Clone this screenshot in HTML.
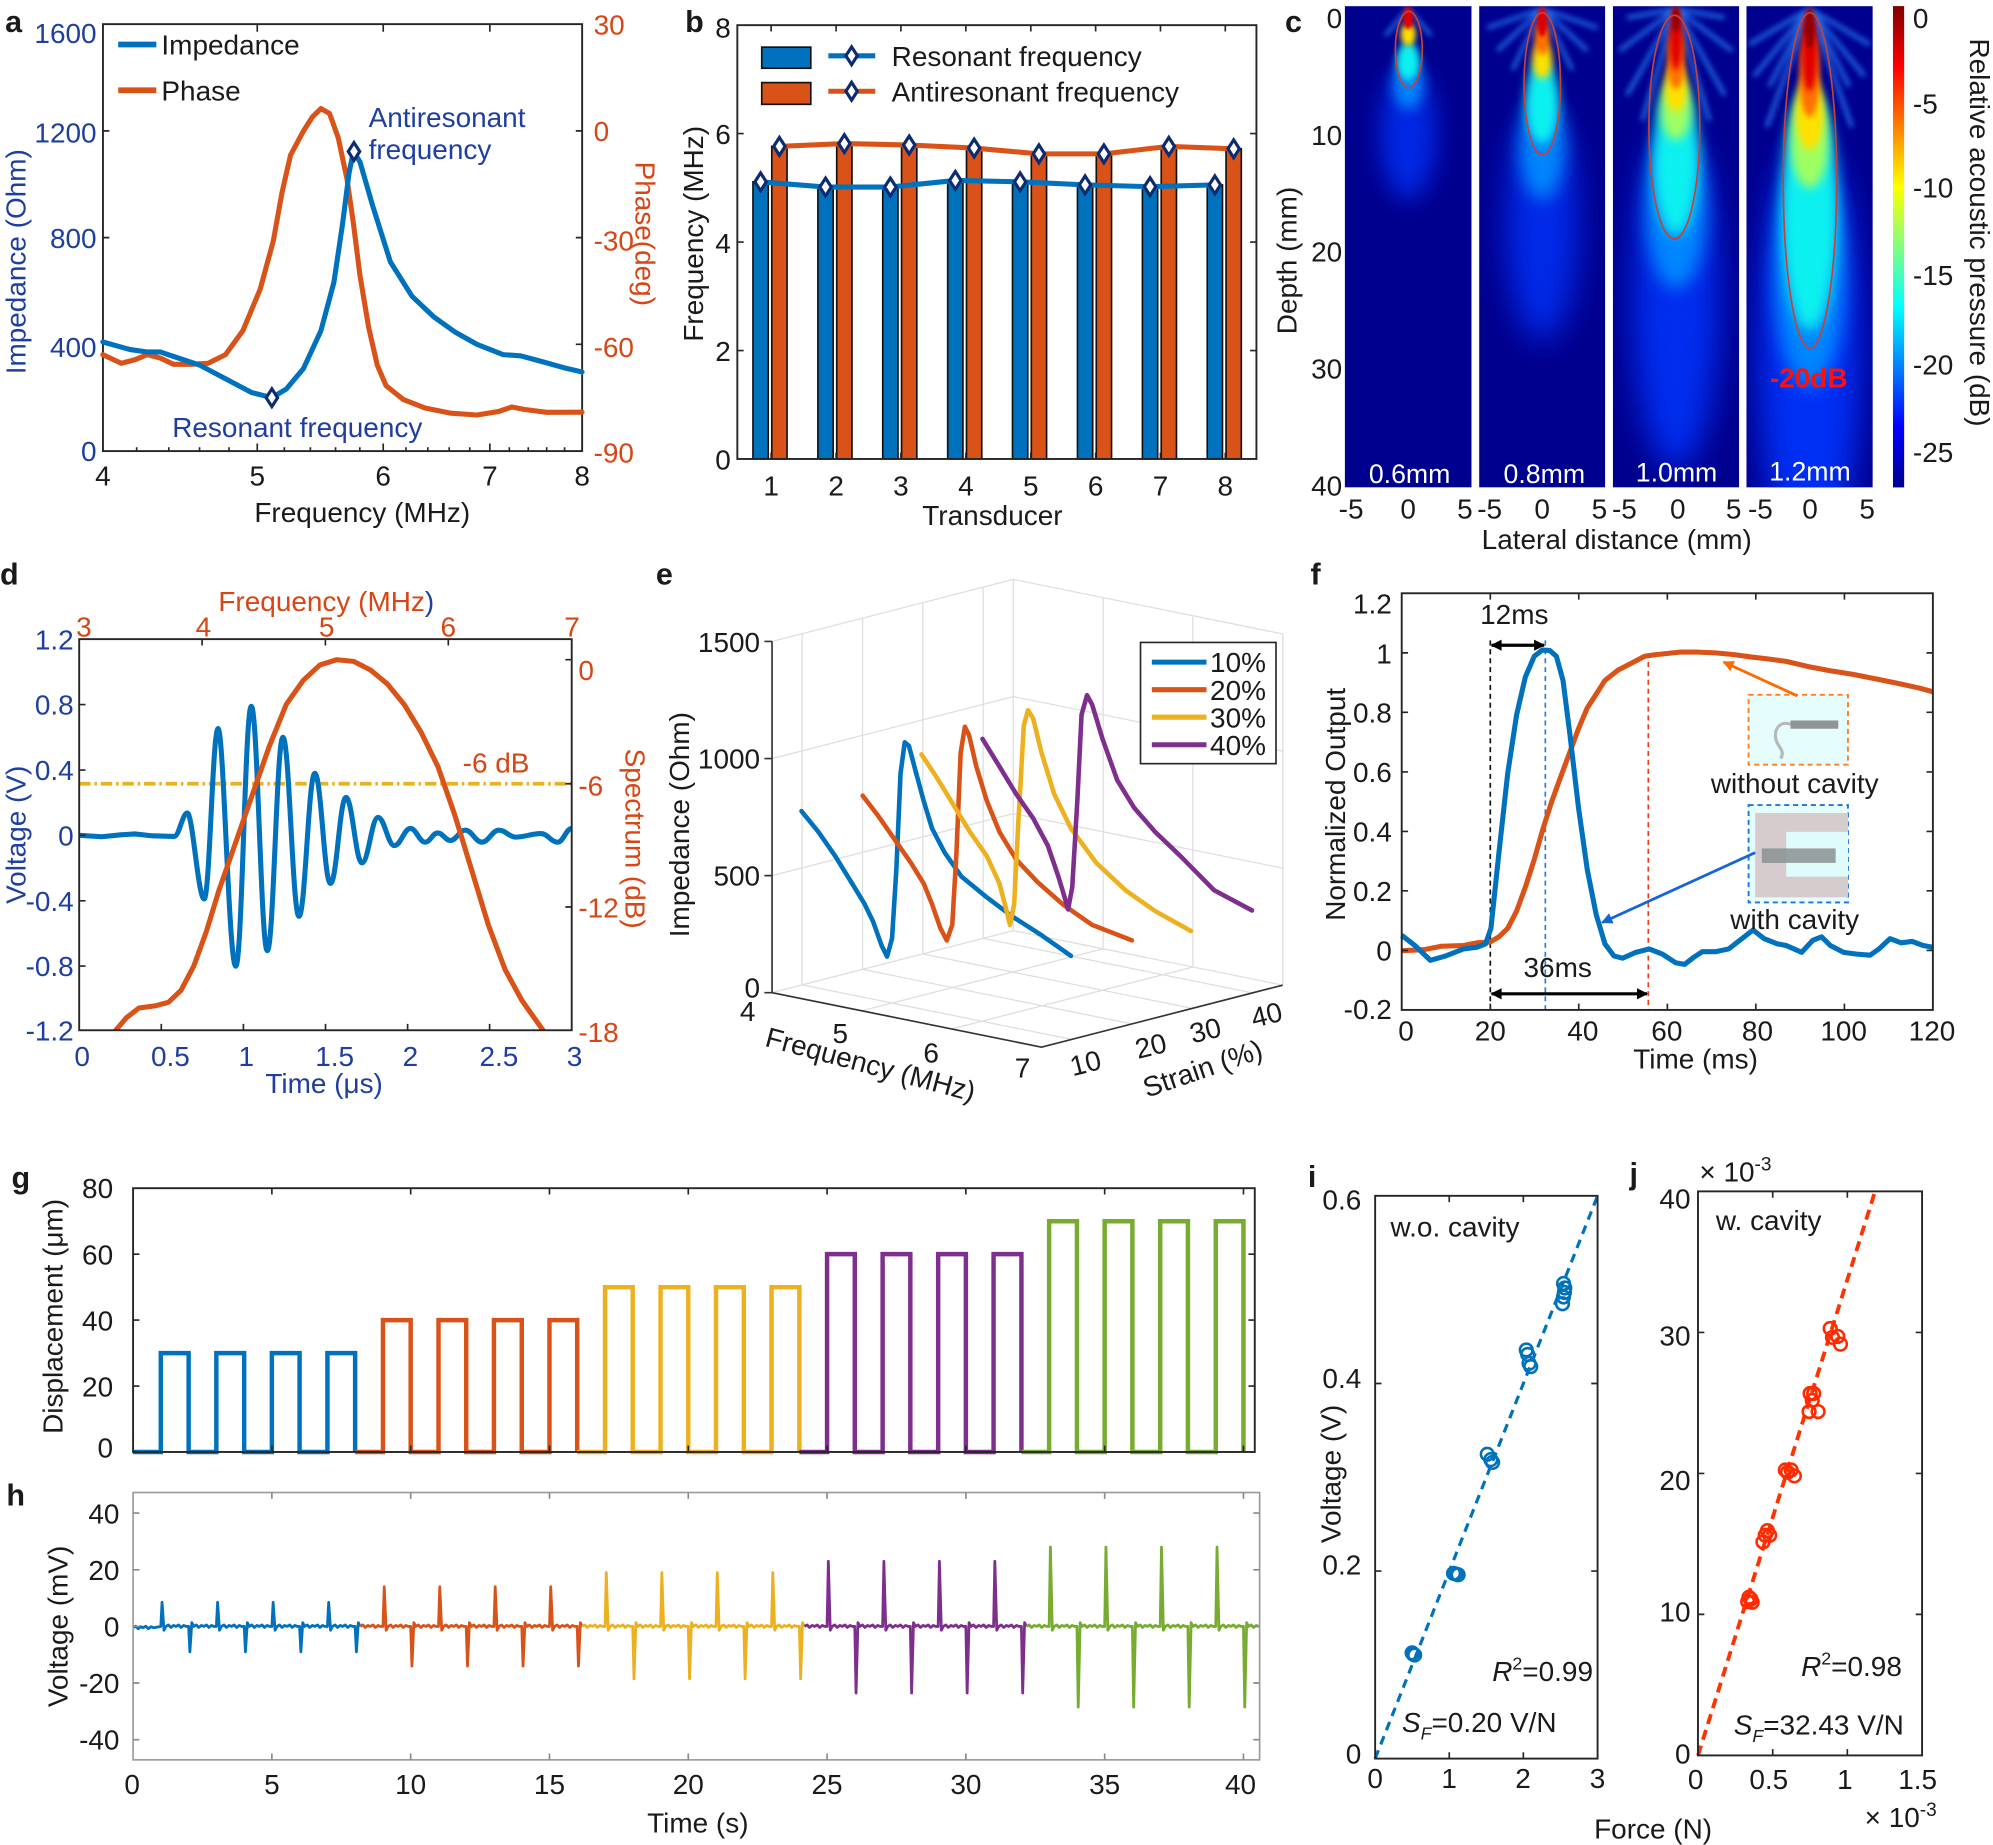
<!DOCTYPE html>
<html><head><meta charset="utf-8"><style>html,body{margin:0;padding:0;background:#fff;}svg{display:block;}</style></head>
<body>
<svg xmlns="http://www.w3.org/2000/svg" width="1993" height="1845" viewBox="0 0 1568 1452" preserveAspectRatio="none" font-family="'Liberation Sans', Arial, sans-serif" font-size="22">
<defs>
<linearGradient id="jet" x1="0" y1="0" x2="0" y2="1">
<stop offset="0" stop-color="#800000"/><stop offset="0.125" stop-color="#ff0000"/><stop offset="0.375" stop-color="#ffff00"/><stop offset="0.625" stop-color="#00ffff"/><stop offset="0.875" stop-color="#0000ff"/><stop offset="1" stop-color="#00008f"/>
</linearGradient>
<filter id="b1" x="-100%" y="-100%" width="300%" height="300%"><feGaussianBlur stdDeviation="1.5"/></filter>
<filter id="b2" x="-100%" y="-100%" width="300%" height="300%"><feGaussianBlur stdDeviation="2.2"/></filter>
<filter id="b3" x="-100%" y="-100%" width="300%" height="300%"><feGaussianBlur stdDeviation="3"/></filter>
<filter id="b4" x="-100%" y="-100%" width="300%" height="300%"><feGaussianBlur stdDeviation="4"/></filter>
<filter id="b5" x="-100%" y="-100%" width="300%" height="300%"><feGaussianBlur stdDeviation="5"/></filter>
<filter id="b7" x="-100%" y="-100%" width="300%" height="300%"><feGaussianBlur stdDeviation="7"/></filter>
<filter id="b9" x="-100%" y="-100%" width="300%" height="300%"><feGaussianBlur stdDeviation="9"/></filter>
<filter id="b12" x="-100%" y="-100%" width="300%" height="300%"><feGaussianBlur stdDeviation="12"/></filter>
<clipPath id="cp1"><rect x="1058" y="4.8" width="99.7" height="378.8"/></clipPath>
<clipPath id="cp2"><rect x="1163.7" y="4.8" width="99.2" height="378.8"/></clipPath>
<clipPath id="cp3"><rect x="1268.9" y="4.8" width="99.4" height="378.8"/></clipPath>
<clipPath id="cp4"><rect x="1374" y="4.8" width="99.4" height="378.8"/></clipPath>
<clipPath id="cpd"><rect x="62.3" y="503" width="387.5" height="307.8"/></clipPath>
<marker id="mk" viewBox="0 0 10 10" refX="9" refY="5" markerWidth="4" markerHeight="3.5" orient="auto-start-reverse"><path d="M0,0 L10,5 L0,10 z" fill="#000"/></marker>
<marker id="mo" viewBox="0 0 10 10" refX="9" refY="5" markerWidth="5" markerHeight="4" orient="auto"><path d="M0,0 L10,5 L0,10 z" fill="#ff6a00"/></marker>
<marker id="mb" viewBox="0 0 10 10" refX="9" refY="5" markerWidth="5" markerHeight="4" orient="auto"><path d="M0,0 L10,5 L0,10 z" fill="#1565d8"/></marker>
</defs>

<!-- ================= PANEL A ================= -->
<g>
<rect x="81" y="19" width="377" height="336" fill="none" stroke="#262626" stroke-width="1.5"/>
<g stroke="#262626" stroke-width="1.3">
<path d="M81,271h5M81,187h5M81,103h5M458,271h-5M458,187h-5M458,103h-5"/>
<path d="M202.4,355v-6M301.5,355v-6M385.4,355v-6M202.4,19v6M301.5,19v6M385.4,19v6"/>
<path d="M107.5,355v-3M132.8,355v-3M157,355v-3M180.2,355v-3M223.7,355v-3M244.2,355v-3M264,355v-3M283.1,355v-3M319.4,355v-3M336.6,355v-3M353.4,355v-3M369.6,355v-3M400.7,355v-3M415.6,355v-3M430.1,355v-3M444.2,355v-3"/>
</g>
<g fill="none" stroke-linejoin="round" stroke-linecap="round">
<polyline stroke="#d95319" stroke-width="4" points="80.9,279.1 95.5,285.9 105.8,283.2 116,279.1 126.2,281.8 136.5,286.7 150.1,286.7 163.8,285.9 177.4,279.1 191.1,260.2 204.7,227.6 215,189.7 221.8,151.8 228.6,122 238.8,103 245.7,92.1 252.5,85.4 259.3,89.4 266.1,108.4 273,140.9 278.1,176.2 283.2,216.8 290,257.5 296.8,287.3 303.7,303.5 317.3,314.4 334.4,321.1 354.8,325.2 375.3,326.6 392.4,323.8 402.6,320.3 412.9,322.3 429.9,324.5 457.9,324.4"/>
<polyline stroke="#0072bd" stroke-width="4" points="80.9,269.1 102.4,275.1 116,277 126.2,277 136.5,280.5 157,287.3 177.4,298.1 197.9,308.9 213.9,313 225.2,306.2 238.8,290 252.5,260.2 262.7,222.2 269.5,176.2 274.7,135.5 278.1,119.2 283.2,127.4 293.4,162.6 307.1,206 324.1,233.1 341.2,249.3 358.3,261.5 375.3,271 395.8,279.1 409.5,280 426.5,284.6 443.6,289.4 457.9,292.7"/>
</g>
<path d="M213.9,306 l4.5,7 l-4.5,7 l-4.5,-7z M278.5,112.2 l4.5,7 l-4.5,7 l-4.5,-7z" fill="#fff" stroke="#0d2b70" stroke-width="2.5"/>
<line x1="93" y1="35" x2="123" y2="35" stroke="#0072bd" stroke-width="4.5"/>
<line x1="93" y1="71" x2="123" y2="71" stroke="#d95319" stroke-width="4.5"/>
<g fill="#1a1a1a">
<text x="127" y="43">Impedance</text>
<text x="127" y="79">Phase</text>
<text x="4" y="25" font-weight="bold" font-size="24">a</text>
<text x="285" y="411" text-anchor="middle">Frequency (MHz)</text>
<g text-anchor="middle" font-size="22"><text x="81" y="382">4</text><text x="202.4" y="382">5</text><text x="301.5" y="382">6</text><text x="385.4" y="382">7</text><text x="458" y="382">8</text></g>
</g>
<g fill="#1e3ea0">
<g text-anchor="end"><text x="76" y="34">1600</text><text x="76" y="112">1200</text><text x="76" y="195">800</text><text x="76" y="281">400</text><text x="76" y="363">0</text></g>
<text transform="translate(20,206) rotate(-90)" text-anchor="middle">Impedance (Ohm)</text>
<text x="290" y="100">Antiresonant</text>
<text x="290" y="125">frequency</text>
<text x="135.5" y="344">Resonant frequency</text>
</g>
<g fill="#d74614">
<text x="467" y="27">30</text><text x="467" y="111">0</text><text x="467" y="197">-30</text><text x="467" y="281">-60</text><text x="467" y="364">-90</text>
<text transform="translate(500,184) rotate(90)" text-anchor="middle">Phase(deg)</text>
</g>
</g>

<!-- ================= PANEL B ================= -->
<g>
<g stroke="#111" stroke-width="1.3">
<rect x="592.4" y="143.1" width="12" height="218.1" fill="#0072bd"/>
<rect x="643.5" y="147.2" width="12" height="214" fill="#0072bd"/>
<rect x="694.5" y="147.2" width="12" height="214" fill="#0072bd"/>
<rect x="745.6" y="142" width="12" height="219.2" fill="#0072bd"/>
<rect x="796.6" y="143.1" width="12" height="218.1" fill="#0072bd"/>
<rect x="847.7" y="145.5" width="12" height="215.7" fill="#0072bd"/>
<rect x="898.8" y="146.9" width="12" height="214.3" fill="#0072bd"/>
<rect x="949.8" y="145.5" width="12" height="215.7" fill="#0072bd"/>
<rect x="607.2" y="115.2" width="12" height="246" fill="#d95319"/>
<rect x="658.3" y="113" width="12" height="248.2" fill="#d95319"/>
<rect x="709.3" y="114.1" width="12" height="247.1" fill="#d95319"/>
<rect x="760.4" y="116.5" width="12" height="244.7" fill="#d95319"/>
<rect x="811.4" y="121.1" width="12" height="240.1" fill="#d95319"/>
<rect x="862.5" y="121.1" width="12" height="240.1" fill="#d95319"/>
<rect x="913.6" y="115.2" width="12" height="246" fill="#d95319"/>
<rect x="964.6" y="117.1" width="12" height="244.1" fill="#d95319"/>
</g>
<rect x="580.1" y="19.8" width="408.4" height="341.4" fill="none" stroke="#262626" stroke-width="1.5"/>
<g stroke="#262626" stroke-width="1.3">
<path d="M580.1,275.9h5M580.1,190.5h5M580.1,105.1h5M988.5,275.9h-5M988.5,190.5h-5M988.5,105.1h-5"/>
<path d="M606.7,361.2v-5M657.8,361.2v-5M708.8,361.2v-5M759.9,361.2v-5M811,361.2v-5M862,361.2v-5M913,361.2v-5M964,361.2v-5M606.7,19.8v5M657.8,19.8v5M708.8,19.8v5M759.9,19.8v5M811,19.8v5M862,19.8v5M913,19.8v5M964,19.8v5"/>
</g>
<polyline fill="none" stroke="#0072bd" stroke-width="4" stroke-linejoin="round" points="598.4,143.1 649.5,147.2 700.5,147.2 751.6,142 802.6,143.1 853.7,145.5 904.8,146.9 955.8,145.5"/>
<polyline fill="none" stroke="#d95319" stroke-width="4" stroke-linejoin="round" points="613.2,115.2 664.3,113 715.3,114.1 766.4,116.5 817.4,121.1 868.5,121.1 919.6,115.2 970.6,117.1"/>
<g fill="#fff" stroke="#0d2b70" stroke-width="2.5">
<path d="M598.4,136.1l4.5,7l-4.5,7l-4.5,-7zM649.5,140.2l4.5,7l-4.5,7l-4.5,-7zM700.5,140.2l4.5,7l-4.5,7l-4.5,-7zM751.6,135l4.5,7l-4.5,7l-4.5,-7zM802.6,136.1l4.5,7l-4.5,7l-4.5,-7zM853.7,138.5l4.5,7l-4.5,7l-4.5,-7zM904.8,139.9l4.5,7l-4.5,7l-4.5,-7zM955.8,138.5l4.5,7l-4.5,7l-4.5,-7z"/>
<path d="M613.2,108.2l4.5,7l-4.5,7l-4.5,-7zM664.3,106l4.5,7l-4.5,7l-4.5,-7zM715.3,107.1l4.5,7l-4.5,7l-4.5,-7zM766.4,109.5l4.5,7l-4.5,7l-4.5,-7zM817.4,114.1l4.5,7l-4.5,7l-4.5,-7zM868.5,114.1l4.5,7l-4.5,7l-4.5,-7zM919.6,108.2l4.5,7l-4.5,7l-4.5,-7zM970.6,110.1l4.5,7l-4.5,7l-4.5,-7z"/>
</g>
<rect x="599.3" y="37.1" width="38.6" height="16.6" fill="#0072bd" stroke="#111" stroke-width="1.3"/>
<rect x="599.3" y="65" width="38.6" height="17.1" fill="#d95319" stroke="#111" stroke-width="1.3"/>
<line x1="651.7" y1="43.9" x2="688.6" y2="43.9" stroke="#0072bd" stroke-width="4"/>
<line x1="651.7" y1="71.8" x2="688.6" y2="71.8" stroke="#d95319" stroke-width="4"/>
<path d="M670,36.9l4.5,7l-4.5,7l-4.5,-7zM670,64.8l4.5,7l-4.5,7l-4.5,-7z" fill="#fff" stroke="#0d2b70" stroke-width="2.5"/>
<g fill="#1a1a1a">
<text x="701.5" y="52">Resonant frequency</text>
<text x="701.5" y="80">Antiresonant frequency</text>
<text x="539" y="25" font-weight="bold" font-size="24">b</text>
<g text-anchor="end"><text x="575" y="29.5">8</text><text x="575" y="113.5">6</text><text x="575" y="199">4</text><text x="575" y="284">2</text><text x="575" y="369.5">0</text></g>
<g text-anchor="middle"><text x="606.7" y="390">1</text><text x="657.8" y="390">2</text><text x="708.8" y="390">3</text><text x="759.9" y="390">4</text><text x="811" y="390">5</text><text x="862" y="390">6</text><text x="913" y="390">7</text><text x="964" y="390">8</text></g>
<text x="780.8" y="413" text-anchor="middle">Transducer</text>
<text transform="translate(553,184) rotate(-90)" text-anchor="middle">Frequency (MHz)</text>
</g>
</g>

<!-- ================= PANEL C ================= -->
<g>
<!-- panel 1 -->
<g clip-path="url(#cp1)">
<rect x="1058" y="4.8" width="99.7" height="378.8" fill="#00008f"/>
<ellipse cx="1107.9" cy="105" rx="22" ry="52" fill="#0035ff" opacity="0.75" filter="url(#b9)"/>
<ellipse cx="1107.9" cy="66" rx="12" ry="20" fill="#0090ff" opacity="0.9" filter="url(#b5)"/>
<path d="M1107.9,7 L1090,28 M1107.9,7 L1126,28" stroke="#2a8cff" stroke-width="3" opacity="0.8" filter="url(#b2)"/>
<ellipse cx="1107.9" cy="48" rx="9" ry="15" fill="#10f0f0" filter="url(#b3)"/>
<ellipse cx="1107.9" cy="27" rx="6" ry="9" fill="#ffe000" filter="url(#b2)"/>
<ellipse cx="1107.9" cy="14" rx="4" ry="9" fill="#e00000" filter="url(#b1)"/>
<ellipse cx="1108.4" cy="39" rx="10.6" ry="30" fill="none" stroke="#c8403a" stroke-width="1.3"/>
</g>
<!-- panel 2 -->
<g clip-path="url(#cp2)">
<rect x="1163.7" y="4.8" width="99.2" height="378.8" fill="#00008f"/>
<ellipse cx="1213.3" cy="178" rx="28" ry="90" fill="#0035ff" opacity="0.8" filter="url(#b12)"/>
<ellipse cx="1213.3" cy="115" rx="18" ry="42" fill="#0090ff" opacity="0.9" filter="url(#b7)"/>
<path d="M1213.3,7 L1190,55 M1213.3,7 L1237,55 M1213.3,7 L1178,40 M1213.3,7 L1249,40 M1213.3,7 L1170,22 M1213.3,7 L1257,22" stroke="#2a8cff" stroke-width="3" opacity="0.8" filter="url(#b2)"/>
<ellipse cx="1213.3" cy="80" rx="13" ry="33" fill="#10f0f0" filter="url(#b4)"/>
<ellipse cx="1213.3" cy="47" rx="8" ry="15" fill="#ffe000" filter="url(#b3)"/>
<ellipse cx="1213.3" cy="30" rx="6" ry="13" fill="#ff7000" filter="url(#b2)"/>
<ellipse cx="1213.3" cy="17" rx="4" ry="12" fill="#e00000" filter="url(#b1)"/>
<ellipse cx="1213.4" cy="66" rx="14.3" ry="56" fill="none" stroke="#c8403a" stroke-width="1.3"/>
</g>
<!-- panel 3 -->
<g clip-path="url(#cp3)">
<rect x="1268.9" y="4.8" width="99.4" height="378.8" fill="#00008f"/>
<ellipse cx="1318.6" cy="235" rx="34" ry="135" fill="#0035ff" opacity="0.85" filter="url(#b12)"/>
<ellipse cx="1318.6" cy="165" rx="24" ry="62" fill="#0090ff" opacity="0.9" filter="url(#b7)"/>
<path d="M1318.6,7 L1292,95 M1318.6,7 L1345,95 M1318.6,7 L1280,75 M1318.6,7 L1357,75 M1318.6,7 L1274,40 M1318.6,7 L1363,40 M1318.6,7 L1280,14 M1318.6,7 L1357,14" stroke="#2a8cff" stroke-width="3.2" opacity="0.8" filter="url(#b2)"/>
<ellipse cx="1318.6" cy="125" rx="18" ry="60" fill="#10f0f0" filter="url(#b5)"/>
<ellipse cx="1318.6" cy="86" rx="12" ry="24" fill="#a0ff60" filter="url(#b4)"/>
<ellipse cx="1318.6" cy="68" rx="9" ry="20" fill="#ffe000" filter="url(#b3)"/>
<ellipse cx="1318.6" cy="46" rx="7" ry="24" fill="#ff7000" filter="url(#b2)"/>
<ellipse cx="1318.6" cy="30" rx="5" ry="25" fill="#e00000" filter="url(#b2)"/>
<ellipse cx="1318.6" cy="15" rx="3" ry="10" fill="#900000" filter="url(#b1)"/>
<ellipse cx="1317.3" cy="100" rx="20" ry="88" fill="none" stroke="#c8403a" stroke-width="1.3"/>
</g>
<!-- panel 4 -->
<g clip-path="url(#cp4)">
<rect x="1374" y="4.8" width="99.4" height="378.8" fill="#00008f"/>
<ellipse cx="1423.7" cy="280" rx="40" ry="170" fill="#0035ff" opacity="0.9" filter="url(#b12)"/>
<ellipse cx="1423.7" cy="215" rx="28" ry="90" fill="#0090ff" opacity="0.9" filter="url(#b7)"/>
<path d="M1423.7,7 L1392,68 M1423.7,7 L1455,68 M1423.7,7 L1380,60 M1423.7,7 L1467,60 M1423.7,7 L1376,35 M1423.7,7 L1471,35 M1423.7,7 L1390,100 M1423.7,7 L1457,100" stroke="#2a8cff" stroke-width="3.2" opacity="0.8" filter="url(#b2)"/>
<ellipse cx="1423.7" cy="165" rx="22" ry="95" fill="#10f0f0" filter="url(#b5)"/>
<ellipse cx="1423.7" cy="110" rx="15" ry="38" fill="#a0ff60" filter="url(#b4)"/>
<ellipse cx="1423.7" cy="88" rx="11" ry="30" fill="#ffe000" filter="url(#b3)"/>
<ellipse cx="1423.7" cy="58" rx="8" ry="34" fill="#ff7000" filter="url(#b2)"/>
<ellipse cx="1423.7" cy="40" rx="6" ry="32" fill="#e00000" filter="url(#b2)"/>
<ellipse cx="1423.7" cy="22" rx="3.5" ry="16" fill="#900000" filter="url(#b1)"/>
<ellipse cx="1424" cy="142" rx="21" ry="132" fill="none" stroke="#c8403a" stroke-width="1.3"/>
</g>
<rect x="1489.3" y="4.8" width="8.8" height="378.8" fill="url(#jet)"/>
<g fill="#fff" font-size="21" text-anchor="middle">
<text x="1109" y="380">0.6mm</text><text x="1215" y="380">0.8mm</text><text x="1319" y="379">1.0mm</text><text x="1424" y="378">1.2mm</text>
</g>
<text x="1423" y="305" fill="#ff1010" font-weight="bold" font-size="22" text-anchor="middle">-20dB</text>
<g fill="#1a1a1a">
<text x="1011" y="25" font-weight="bold" font-size="24">c</text>
<g text-anchor="end"><text x="1056" y="22">0</text><text x="1056" y="114">10</text><text x="1056" y="206">20</text><text x="1056" y="298">30</text><text x="1056" y="390">40</text></g>
<g text-anchor="middle">
<text x="1063" y="408">-5</text><text x="1107.9" y="408">0</text><text x="1152.5" y="408">5</text>
<text x="1172" y="408">-5</text><text x="1213.3" y="408">0</text><text x="1258.3" y="408">5</text>
<text x="1278" y="408">-5</text><text x="1320" y="408">0</text><text x="1364" y="408">5</text>
<text x="1385" y="408">-5</text><text x="1424" y="408">0</text><text x="1469" y="408">5</text>
</g>
<text x="1272" y="432" text-anchor="middle">Lateral distance (mm)</text>
<text transform="translate(1020,205) rotate(-90)" text-anchor="middle">Depth (mm)</text>
<text x="1505" y="22">0</text><text x="1505" y="89.5">-5</text><text x="1505" y="155.5">-10</text><text x="1505" y="224.4">-15</text><text x="1505" y="294.6">-20</text><text x="1505" y="363.5">-25</text>
<text transform="translate(1550,183) rotate(90)" text-anchor="middle">Relative acoustic pressure (dB)</text>
</g>
</g>

<!-- ================= PANEL D ================= -->
<g>
<g clip-path="url(#cpd)" fill="none" stroke-linejoin="round">
<line x1="62.3" y1="616.8" x2="449.8" y2="616.8" stroke="#edb120" stroke-width="3" stroke-dasharray="9,3,2,3"/>
<path stroke="#0072bd" stroke-width="4" d="M62.3,657.4 L80,658.5 L95,657 L106,656.3 L120,657.8 L137,658.3 C141,658.3 143.5,639.8 147.4,639.8 C151.5,639.8 156,707.5 160.6,707.5 C165,707.5 167.2,573.4 171.6,573.4 C176,573.4 180,760.4 185.5,760.4 C190.5,760.4 192.8,555.8 197.7,555.8 C202.7,555.8 205.3,748.2 210.3,748.2 C215.3,748.2 217.6,580.2 222.6,580.2 C227.6,580.2 230.2,721.1 235.2,721.1 C240.2,721.1 242.7,608.6 247.7,608.6 C252.6,608.6 255.1,695.3 260,695.3 C264.9,695.3 267.3,627.6 272.2,627.6 C277.2,627.6 279.8,679.1 284.8,679.1 C289.8,679.1 292.4,643.3 297.4,643.3 C302.6,643.3 305.1,665.5 310.3,665.5 C315.3,665.5 317.9,652 322.9,652 C327.5,652 329.9,662.8 334.5,662.8 C338.5,662.8 340.4,655.5 344.4,655.5 C348.4,655.5 350.4,661.5 354.4,661.5 C359,661.5 361.4,653.3 366,653.3 C371.3,653.3 373.9,662.8 379.2,662.8 C384.5,662.8 387.2,653.3 392.5,653.3 C397.8,653.3 400.4,658.8 405.7,658.8 C413.7,658.8 417.6,656 425.6,656 C430.9,656 433.5,662.8 438.8,662.8 C443.2,662.8 445.4,652 449.8,652"/>
<polyline stroke="#d95319" stroke-width="4" points="88,815 91.1,810.8 99.4,801 109.3,793.3 122.5,791.5 132.5,788.8 142.4,779.4 152.4,760.4 162.3,733.3 172.2,700.8 185.5,662.8 198.7,624.9 212,587 225.2,554.4 238.5,535.5 251.7,523.3 265,519.2 278.2,520.5 291.5,527.3 304.7,538.2 318,554.4 331.2,576.1 344.5,603.2 357.7,641.1 371,684.5 384.2,727.9 397.4,763.1 410.7,787.5 427.2,810.8 430,815"/>
</g>
<rect x="62.3" y="503" width="387.5" height="307.8" fill="none" stroke="#262626" stroke-width="1.5"/>
<g stroke="#262626" stroke-width="1.3">
<path d="M62.3,554.5h5M62.3,606h5M62.3,657.4h5M62.3,708.9h5M62.3,760.3h5M449.8,519.2h-5M449.8,616.8h-5M449.8,713.8h-5"/>
<path d="M159,503v5M256,503v5M352.7,503v5M126.9,810.8v-5M191.5,810.8v-5M256.1,810.8v-5M320.7,810.8v-5M385.2,810.8v-5"/>
</g>
<g fill="#1e3ea0">
<g text-anchor="end"><text x="58" y="511">1.2</text><text x="58" y="562.5">0.8</text><text x="58" y="614">0.4</text><text x="58" y="665.4">0</text><text x="58" y="717">-0.4</text><text x="58" y="768.3">-0.8</text><text x="58" y="819">-1.2</text></g>
<g text-anchor="middle"><text x="64.6" y="839">0</text><text x="134.1" y="839">0.5</text><text x="193.8" y="839">1</text><text x="263.3" y="839">1.5</text><text x="322.9" y="839">2</text><text x="392.5" y="839">2.5</text><text x="452" y="839">3</text></g>
<text x="255" y="860" text-anchor="middle">Time (μs)</text>
<text transform="translate(20,657) rotate(-90)" text-anchor="middle">Voltage (V)</text>
</g>
<g fill="#d74614">
<g text-anchor="middle"><text x="66" y="501">3</text><text x="160" y="501">4</text><text x="257" y="501">5</text><text x="352.7" y="501">6</text><text x="450" y="501">7</text></g>
<text x="256.7" y="481" text-anchor="middle">Frequency (MHz<tspan fill="#1e3ea0">)</tspan></text>
<text x="455" y="535">0</text><text x="455" y="626">-6</text><text x="455" y="722">-12</text><text x="455" y="820">-18</text>
<text transform="translate(492,660) rotate(90)" text-anchor="middle">Spectrum (dB)</text>
<text x="364" y="608">-6 dB</text>
</g>
<text x="0" y="460" font-weight="bold" font-size="24" fill="#1a1a1a">d</text>
</g>

<!-- ================= PANEL E ================= -->
<g>
<g stroke="#dedede" stroke-width="1" fill="none">
<path d="M631.1,775.1V498.7M678.6,762.9V486.5M726,750.7V474.3M773.5,738.5V462.1M797.2,732.4V456"/>
<path d="M607.4,689.1L797.2,640.3M607.4,597L797.2,548.2M607.4,504.8L797.2,456M607.4,781.2L797.2,732.4"/>
<path d="M867.9,746.7V470.3M938.5,761V484.6M1009.2,775.3V498.9"/>
<path d="M797.2,732.4L1009.2,775.3M797.2,640.3L1009.2,683.2M797.2,548.2L1009.2,591.1M797.2,456L1009.2,498.9"/>
<path d="M678.1,795.5L867.9,746.7M748.7,809.8L938.5,761M631.1,775.1L843.1,818M678.6,762.9L890.6,805.8M726,750.7L938,793.6M773.5,738.5L985.5,781.4"/>
</g>
<g stroke="#333" stroke-width="1.3" fill="none">
<path d="M607.4,781.2V504.8M607.4,781.2L819.4,824.1L1009.2,775.3"/>
<path d="M607.4,781.2h-6M607.4,689.1h-6M607.4,597h-6M607.4,504.8h-6"/>
</g>
<g fill="none" stroke-width="3.6" stroke-linejoin="round" stroke-linecap="round">
<polyline stroke="#0072bd" points="630.6,638.4 643.9,654.7 657.1,673.7 670.4,695.3 680.3,711.6 686.9,725.2 693.6,744.1 697.9,752.8 701.8,738.7 705.2,684.5 708.5,608.6 711.8,584.2 715.1,587 720.1,605.9 726.7,630.3 733.3,652 743.2,671 756.5,689.9 776.4,706.2 796.2,721.1 819.4,736 842.6,752.3"/>
<polyline stroke="#d95319" points="678.7,626.2 690.2,641.1 703.5,660.1 716.7,679.1 726.7,695.3 733.3,711.6 739.9,730.6 744.9,740.1 749.2,727.9 752.5,670.9 755.8,592.4 759.1,572 762.5,578.8 768.1,603.2 776.4,630.3 786.3,654.7 799.5,676.4 816.1,694 836,711.6 859.2,727.9 890.6,740.1"/>
<polyline stroke="#edb120" points="725,593.7 736.6,611.3 749.9,633 763.1,654.7 776.4,673.7 786.3,695.3 791.3,714.3 794.6,727.9 797.9,711.6 801.2,646.6 805.5,570.7 808.8,559 812.8,565.3 819.4,592.4 829.4,624.9 842.6,652 862.5,679.1 885.7,700.8 908.8,717 937,732.7"/>
<polyline stroke="#7e2f8e" points="773,581.5 786.3,603.2 799.5,624.9 812.8,643.9 824.4,665.5 832.7,689.9 837.6,706.2 840.3,715.7 843.6,698.1 847.6,630.3 850.9,562.6 855.2,547.1 859.2,554.4 867.4,581.5 879,614 892.3,635.7 908.8,654.7 928.7,673.7 955.2,700.6 985,716.5"/>
</g>
<rect x="897.3" y="505.6" width="106.6" height="95.4" fill="#fff" stroke="#262626" stroke-width="1.3"/>
<g stroke-width="4">
<line x1="906.2" y1="521.1" x2="949.2" y2="521.1" stroke="#0072bd"/>
<line x1="906.2" y1="542.8" x2="949.2" y2="542.8" stroke="#d95319"/>
<line x1="906.2" y1="564.4" x2="949.2" y2="564.4" stroke="#edb120"/>
<line x1="906.2" y1="586.1" x2="949.2" y2="586.1" stroke="#7e2f8e"/>
</g>
<g fill="#1a1a1a">
<text x="952" y="529">10%</text><text x="952" y="550.8">20%</text><text x="952" y="572.4">30%</text><text x="952" y="594.1">40%</text>
<text x="516" y="460" font-weight="bold" font-size="24">e</text>
<g text-anchor="end"><text x="598" y="513">1500</text><text x="598" y="605">1000</text><text x="598" y="697">500</text><text x="598" y="785">0</text></g>
<text transform="translate(542,649) rotate(-90)" text-anchor="middle">Impedance (Ohm)</text>
<g text-anchor="middle"><text x="588.2" y="803.6">4</text><text x="661.1" y="821">5</text><text x="732.6" y="836">6</text><text x="804.5" y="848">7</text></g>
<text transform="translate(683,845) rotate(15)" text-anchor="middle">Frequency (MHz)</text>
<g text-anchor="middle">
<text transform="translate(855.8,844) rotate(-14)">10</text>
<text transform="translate(907.2,830.5) rotate(-14)">20</text>
<text transform="translate(950.2,818.3) rotate(-14)">30</text>
<text transform="translate(998.3,806) rotate(-14)">40</text>
<text transform="translate(948.6,848) rotate(-19)">Strain (%)</text>
</g>
</g>
</g>

<!-- ================= PANEL F ================= -->
<g>
<line x1="1172.5" y1="504" x2="1172.5" y2="794.8" stroke="#111" stroke-width="1.3" stroke-dasharray="4,3"/>
<line x1="1215.8" y1="504" x2="1215.8" y2="794.8" stroke="#2b7bd8" stroke-width="1.3" stroke-dasharray="4,3"/>
<line x1="1296.8" y1="514" x2="1296.8" y2="794.8" stroke="#f03a1a" stroke-width="1.3" stroke-dasharray="4,3"/>
<rect x="1375.7" y="546.8" width="78.2" height="55" fill="#e6fdfd" stroke="#ff7f27" stroke-width="1.5" stroke-dasharray="4,3"/>
<path d="M1409,570 C1400,567 1396,574 1397,581 C1398,588 1405,590 1401,597" fill="none" stroke="#b8b8b8" stroke-width="2.5"/>
<rect x="1408.7" y="567" width="37.6" height="6.5" fill="#8f9595"/>
<rect x="1375.7" y="633.6" width="78.2" height="76.6" fill="#e6fdfd" stroke="#1c78d8" stroke-width="1.5" stroke-dasharray="4,3"/>
<rect x="1380.9" y="639.8" width="73" height="66.4" fill="#d6cccd"/>
<rect x="1405.3" y="654.7" width="48.6" height="35.2" fill="#e0fbfb"/>
<rect x="1386.1" y="667.7" width="58.1" height="11.4" fill="#8a9090" opacity="0.85"/>
<g fill="none" stroke-width="4" stroke-linejoin="round">
<polyline stroke="#d95319" points="1102.8,748.2 1120.2,747.4 1134.1,744.7 1151.4,744.1 1161.9,742 1172.3,741.4 1179.3,737.3 1186.2,730.6 1193.2,717 1200.1,698.1 1207.1,676.4 1214,652 1221,630.3 1227.9,611.3 1234.9,592.4 1241.9,573.4 1248.8,557.1 1255.8,546.3 1262.7,535.5 1273.1,527.3 1283.6,521.9 1294,516.5 1301,515.4 1311.4,514.3 1321.8,513.2 1335.7,513.2 1349.6,513.8 1363.5,515.1 1377.5,517 1391.4,518.6 1405.3,520.5 1422.7,524.6 1440,527.9 1457.4,530.6 1474.8,534.1 1492.2,537.6 1509.6,541.4 1520.7,544.4"/>
<polyline stroke="#0072bd" points="1102.8,736 1113.2,744.1 1125.4,755.8 1137.5,752.3 1151.4,746.8 1161.9,745.5 1168.8,742.8 1173,730.6 1179.3,671 1186.2,608.6 1193.2,562.6 1200.1,532.7 1207.1,516.5 1213.3,511.6 1219.2,511.9 1224.5,516.5 1229.7,535.5 1234.9,576.1 1241.9,635.7 1248.8,684.5 1255.8,719.7 1262.7,742.8 1269.7,752.3 1276.6,754.1 1287,749.5 1297.5,746.8 1307.9,750.9 1318.3,757.7 1325.3,759 1332.3,753.6 1339.2,749 1349.6,749 1360.1,746.8 1370.5,738.7 1379.2,731.9 1387.9,738.7 1398.3,742.8 1405.3,744.1 1417.4,749.5 1426.1,740.1 1433.1,737.3 1440,744.1 1450.5,749.5 1460.9,750.9 1471.3,751.7 1478.3,746.8 1487,738.7 1495.7,742 1504.4,740.9 1513,744.1 1520.7,745.5"/>
</g>
<line x1="1414" y1="547.6" x2="1356" y2="521" stroke="#ff6a00" stroke-width="2.2" marker-end="url(#mo)"/>
<line x1="1380.9" y1="671" x2="1260.5" y2="726" stroke="#1565d8" stroke-width="2.2" marker-end="url(#mb)"/>
<line x1="1173.5" y1="507.8" x2="1214.8" y2="507.8" stroke="#000" stroke-width="2.5" marker-start="url(#mk)" marker-end="url(#mk)"/>
<line x1="1173.5" y1="782.1" x2="1295.8" y2="782.1" stroke="#000" stroke-width="2.5" marker-start="url(#mk)" marker-end="url(#mk)"/>
<rect x="1102.8" y="466.9" width="417.9" height="327.9" fill="none" stroke="#262626" stroke-width="1.5"/>
<g stroke="#262626" stroke-width="1.3">
<path d="M1102.8,513.8h5M1102.8,560.6h5M1102.8,607.5h5M1102.8,654.3h5M1102.8,701.1h5M1102.8,748h5M1520.7,513.8h-5M1520.7,560.6h-5M1520.7,607.5h-5M1520.7,654.3h-5M1520.7,701.1h-5M1520.7,748h-5"/>
<path d="M1172.5,794.8v-5M1242.1,794.8v-5M1311.8,794.8v-5M1381.4,794.8v-5M1451.1,794.8v-5M1172.5,466.9v5M1242.1,466.9v5M1311.8,466.9v5M1381.4,466.9v5M1451.1,466.9v5"/>
</g>
<g fill="#1a1a1a">
<text x="1191.4" y="491" text-anchor="middle">12ms</text>
<text x="1225.5" y="769" text-anchor="middle">36ms</text>
<text x="1412" y="624" text-anchor="middle">without cavity</text>
<text x="1412" y="731" text-anchor="middle">with cavity</text>
<text x="1031" y="460" font-weight="bold" font-size="24">f</text>
<g text-anchor="end"><text x="1095" y="483">1.2</text><text x="1095" y="522">1</text><text x="1095" y="568.6">0.8</text><text x="1095" y="615.5">0.6</text><text x="1095" y="662.3">0.4</text><text x="1095" y="709.1">0.2</text><text x="1095" y="756">0</text><text x="1095" y="802">-0.2</text></g>
<g text-anchor="middle"><text x="1106.2" y="819">0</text><text x="1172.5" y="819">20</text><text x="1245.3" y="819">40</text><text x="1311.4" y="819">60</text><text x="1382.7" y="819">80</text><text x="1450.5" y="819">100</text><text x="1520" y="819">120</text></g>
<text x="1334" y="841" text-anchor="middle">Time (ms)</text>
<text transform="translate(1058,633) rotate(-90)" text-anchor="middle">Normalized Output</text>
</g>
</g>

<!-- ================= PANEL G ================= -->
<g>
<g fill="none" stroke-width="3.5" stroke-linejoin="miter">
<path stroke="#0072bd" d="M104.7,1142.7 H126.5 V1064.9 H148.4 V1142.7 H170.2 V1064.9 H192.1 V1142.7 H213.9 V1064.9 H235.7 V1142.7 H257.6 V1064.9 H279.4 V1142.7"/>
<path stroke="#d95319" d="M279.4,1142.7 H301.3 V1038.9 H323.1 V1142.7 H345 V1038.9 H366.8 V1142.7 H388.6 V1038.9 H410.5 V1142.7 H432.3 V1038.9 H454.1 V1142.7"/>
<path stroke="#edb120" d="M454.1,1142.7 H476 V1013 H497.8 V1142.7 H519.7 V1013 H541.5 V1142.7 H563.3 V1013 H585.2 V1142.7 H607 V1013 H628.9 V1142.7"/>
<path stroke="#7e2f8e" d="M628.9,1142.7 H650.7 V987 H672.5 V1142.7 H694.4 V987 H716.2 V1142.7 H738.1 V987 H759.9 V1142.7 H781.7 V987 H803.6 V1142.7"/>
<path stroke="#77ac30" d="M803.6,1142.7 H825.4 V961.1 H847.3 V1142.7 H869.1 V961.1 H890.9 V1142.7 H912.8 V961.1 H934.6 V1142.7 H956.5 V961.1 H978.3 V1142.7"/>
</g>
<rect x="104.7" y="935.1" width="882.5" height="207.6" fill="none" stroke="#262626" stroke-width="1.5"/>
<g stroke="#262626" stroke-width="1.3">
<path d="M104.7,987h5M104.7,1038.9h5M104.7,1090.8h5M987.2,987h-5M987.2,1038.9h-5M987.2,1090.8h-5"/>
<path d="M213.9,935.1v5M323.1,935.1v5M432.3,935.1v5M541.5,935.1v5M650.7,935.1v5M759.9,935.1v5M869.1,935.1v5M978.3,935.1v5M213.9,1142.7v-5M323.1,1142.7v-5M432.3,1142.7v-5M541.5,1142.7v-5M650.7,1142.7v-5M759.9,1142.7v-5M869.1,1142.7v-5M978.3,1142.7v-5"/>
</g>
<g fill="#1a1a1a">
<text x="9" y="935" font-weight="bold" font-size="24">g</text>
<g text-anchor="end"><text x="89" y="943">80</text><text x="89" y="995">60</text><text x="89" y="1047">40</text><text x="89" y="1099">20</text><text x="89" y="1147">0</text></g>
<text transform="translate(49,1036) rotate(-90)" text-anchor="middle">Displacement (μm)</text>
</g>
</g>

<!-- ================= PANEL H ================= -->
<g>
<g fill="none" stroke-width="2.2" stroke-linejoin="round">
<path stroke="#0072bd" d="M104.7,1281 l2,-1.2 l2,2 l2,-1.6 l2,0.8 l2,-1.2 l2,2 l2,-1.6 l2,0.8 L126.5,1280 L127.5,1261 L129,1283 L130.5,1280 l2,-1.2 l2,2 l2,-1.6 l2,0.8 l2,-1.2 l2,2 l2,-1.6 l2,0.8 L148.4,1280 L149.4,1300 L150.9,1277 L152.4,1280 l2,-1.2 l2,2 l2,-1.6 l2,0.8 l2,-1.2 l2,2 l2,-1.6 l2,0.8 L170.2,1280 L171.2,1261 L172.7,1283 L174.2,1280 l2,-1.2 l2,2 l2,-1.6 l2,0.8 l2,-1.2 l2,2 l2,-1.6 l2,0.8 L192.1,1280 L193.1,1300 L194.6,1277 L196.1,1280 l2,-1.2 l2,2 l2,-1.6 l2,0.8 l2,-1.2 l2,2 l2,-1.6 l2,0.8 L213.9,1280 L214.9,1261 L216.4,1283 L217.9,1280 l2,-1.2 l2,2 l2,-1.6 l2,0.8 l2,-1.2 l2,2 l2,-1.6 l2,0.8 L235.7,1280 L236.7,1300 L238.2,1277 L239.7,1280 l2,-1.2 l2,2 l2,-1.6 l2,0.8 l2,-1.2 l2,2 l2,-1.6 l2,0.8 L257.6,1280 L258.6,1261 L260.1,1283 L261.6,1280 l2,-1.2 l2,2 l2,-1.6 l2,0.8 l2,-1.2 l2,2 l2,-1.6 l2,0.8 L279.4,1280 L280.4,1300 L281.9,1277 L283.4,1280"/>
<path stroke="#d95319" d="M283.4,1280 l2,-1.2 l2,2 l2,-1.6 l2,0.8 l2,-1.2 l2,2 l2,-1.6 l2,0.8 L301.3,1280 L302.3,1248.8 L303.8,1283 L305.3,1280 l2,-1.2 l2,2 l2,-1.6 l2,0.8 l2,-1.2 l2,2 l2,-1.6 l2,0.8 L323.1,1280 L324.1,1311.2 L325.6,1277 L327.1,1280 l2,-1.2 l2,2 l2,-1.6 l2,0.8 l2,-1.2 l2,2 l2,-1.6 l2,0.8 L345,1280 L346,1248.8 L347.5,1283 L349,1280 l2,-1.2 l2,2 l2,-1.6 l2,0.8 l2,-1.2 l2,2 l2,-1.6 l2,0.8 L366.8,1280 L367.8,1311.2 L369.3,1277 L370.8,1280 l2,-1.2 l2,2 l2,-1.6 l2,0.8 l2,-1.2 l2,2 l2,-1.6 l2,0.8 L388.6,1280 L389.6,1248.8 L391.1,1283 L392.6,1280 l2,-1.2 l2,2 l2,-1.6 l2,0.8 l2,-1.2 l2,2 l2,-1.6 l2,0.8 L410.5,1280 L411.5,1311.2 L413,1277 L414.5,1280 l2,-1.2 l2,2 l2,-1.6 l2,0.8 l2,-1.2 l2,2 l2,-1.6 l2,0.8 L432.3,1280 L433.3,1248.8 L434.8,1283 L436.3,1280 l2,-1.2 l2,2 l2,-1.6 l2,0.8 l2,-1.2 l2,2 l2,-1.6 l2,0.8 L454.1,1280 L455.1,1311.2 L456.6,1277 L458.1,1280"/>
<path stroke="#edb120" d="M458.1,1280 l2,-1.2 l2,2 l2,-1.6 l2,0.8 l2,-1.2 l2,2 l2,-1.6 l2,0.8 L476,1280 L477,1237.7 L478.5,1283 L480,1280 l2,-1.2 l2,2 l2,-1.6 l2,0.8 l2,-1.2 l2,2 l2,-1.6 l2,0.8 L497.8,1280 L498.8,1321.2 L500.3,1277 L501.8,1280 l2,-1.2 l2,2 l2,-1.6 l2,0.8 l2,-1.2 l2,2 l2,-1.6 l2,0.8 L519.7,1280 L520.7,1237.7 L522.2,1283 L523.7,1280 l2,-1.2 l2,2 l2,-1.6 l2,0.8 l2,-1.2 l2,2 l2,-1.6 l2,0.8 L541.5,1280 L542.5,1321.2 L544,1277 L545.5,1280 l2,-1.2 l2,2 l2,-1.6 l2,0.8 l2,-1.2 l2,2 l2,-1.6 l2,0.8 L563.3,1280 L564.3,1237.7 L565.8,1283 L567.3,1280 l2,-1.2 l2,2 l2,-1.6 l2,0.8 l2,-1.2 l2,2 l2,-1.6 l2,0.8 L585.2,1280 L586.2,1321.2 L587.7,1277 L589.2,1280 l2,-1.2 l2,2 l2,-1.6 l2,0.8 l2,-1.2 l2,2 l2,-1.6 l2,0.8 L607,1280 L608,1237.7 L609.5,1283 L611,1280 l2,-1.2 l2,2 l2,-1.6 l2,0.8 l2,-1.2 l2,2 l2,-1.6 l2,0.8 L628.9,1280 L629.9,1321.2 L631.4,1277 L632.9,1280"/>
<path stroke="#7e2f8e" d="M632.9,1280 l2,-1.2 l2,2 l2,-1.6 l2,0.8 l2,-1.2 l2,2 l2,-1.6 l2,0.8 L650.7,1280 L651.7,1228.7 L653.2,1283 L654.7,1280 l2,-1.2 l2,2 l2,-1.6 l2,0.8 l2,-1.2 l2,2 l2,-1.6 l2,0.8 L672.5,1280 L673.5,1332.4 L675,1277 L676.5,1280 l2,-1.2 l2,2 l2,-1.6 l2,0.8 l2,-1.2 l2,2 l2,-1.6 l2,0.8 L694.4,1280 L695.4,1228.7 L696.9,1283 L698.4,1280 l2,-1.2 l2,2 l2,-1.6 l2,0.8 l2,-1.2 l2,2 l2,-1.6 l2,0.8 L716.2,1280 L717.2,1332.4 L718.7,1277 L720.2,1280 l2,-1.2 l2,2 l2,-1.6 l2,0.8 l2,-1.2 l2,2 l2,-1.6 l2,0.8 L738.1,1280 L739.1,1228.7 L740.6,1283 L742.1,1280 l2,-1.2 l2,2 l2,-1.6 l2,0.8 l2,-1.2 l2,2 l2,-1.6 l2,0.8 L759.9,1280 L760.9,1332.4 L762.4,1277 L763.9,1280 l2,-1.2 l2,2 l2,-1.6 l2,0.8 l2,-1.2 l2,2 l2,-1.6 l2,0.8 L781.7,1280 L782.7,1228.7 L784.2,1283 L785.7,1280 l2,-1.2 l2,2 l2,-1.6 l2,0.8 l2,-1.2 l2,2 l2,-1.6 l2,0.8 L803.6,1280 L804.6,1332.4 L806.1,1277 L807.6,1280"/>
<path stroke="#77ac30" d="M807.6,1280 l2,-1.2 l2,2 l2,-1.6 l2,0.8 l2,-1.2 l2,2 l2,-1.6 l2,0.8 L825.4,1280 L826.4,1217.6 L827.9,1283 L829.4,1280 l2,-1.2 l2,2 l2,-1.6 l2,0.8 l2,-1.2 l2,2 l2,-1.6 l2,0.8 L847.3,1280 L848.3,1343.5 L849.8,1277 L851.3,1280 l2,-1.2 l2,2 l2,-1.6 l2,0.8 l2,-1.2 l2,2 l2,-1.6 l2,0.8 L869.1,1280 L870.1,1217.6 L871.6,1283 L873.1,1280 l2,-1.2 l2,2 l2,-1.6 l2,0.8 l2,-1.2 l2,2 l2,-1.6 l2,0.8 L890.9,1280 L891.9,1343.5 L893.4,1277 L894.9,1280 l2,-1.2 l2,2 l2,-1.6 l2,0.8 l2,-1.2 l2,2 l2,-1.6 l2,0.8 L912.8,1280 L913.8,1217.6 L915.3,1283 L916.8,1280 l2,-1.2 l2,2 l2,-1.6 l2,0.8 l2,-1.2 l2,2 l2,-1.6 l2,0.8 L934.6,1280 L935.6,1343.5 L937.1,1277 L938.6,1280 l2,-1.2 l2,2 l2,-1.6 l2,0.8 l2,-1.2 l2,2 l2,-1.6 l2,0.8 L956.5,1280 L957.5,1217.6 L959,1283 L960.5,1280 l2,-1.2 l2,2 l2,-1.6 l2,0.8 l2,-1.2 l2,2 l2,-1.6 l2,0.8 L978.3,1280 L979.3,1343.5 L980.8,1277 L982.3,1280 l2,-1.2 l2,2 l2,-1.6 l2,0.8"/>
</g>
<rect x="104.7" y="1174.6" width="886.3" height="210.4" fill="none" stroke="#9a9a9a" stroke-width="1.3"/>
<g stroke="#8a8a8a" stroke-width="1.3">
<path d="M104.7,1190.8h5M104.7,1235.4h5M104.7,1280h5M104.7,1324.5h5M104.7,1369.1h5M991,1190.8h-5M991,1235.4h-5M991,1280h-5M991,1324.5h-5M991,1369.1h-5"/>
<path d="M213.9,1385v-5M323.1,1385v-5M432.3,1385v-5M541.5,1385v-5M650.7,1385v-5M759.9,1385v-5M869.1,1385v-5M978.3,1385v-5M213.9,1174.6v5M323.1,1174.6v5M432.3,1174.6v5M541.5,1174.6v5M650.7,1174.6v5M759.9,1174.6v5M869.1,1174.6v5M978.3,1174.6v5"/>
</g>
<g fill="#1a1a1a">
<text x="5" y="1185" font-weight="bold" font-size="24">h</text>
<g text-anchor="end"><text x="94" y="1199">40</text><text x="94" y="1243.4">20</text><text x="94" y="1288">0</text><text x="94" y="1332.5">-20</text><text x="94" y="1377">-40</text></g>
<g text-anchor="middle"><text x="104" y="1412">0</text><text x="213.9" y="1412">5</text><text x="323.1" y="1412">10</text><text x="432.3" y="1412">15</text><text x="541.5" y="1412">20</text><text x="650.7" y="1412">25</text><text x="759.9" y="1412">30</text><text x="869.1" y="1412">35</text><text x="976" y="1412">40</text></g>
<text x="549" y="1442" text-anchor="middle">Time (s)</text>
<text transform="translate(53,1280) rotate(-90)" text-anchor="middle">Voltage (mV)</text>
</g>
</g>

<!-- ================= PANEL I ================= -->
<g>
<line x1="1081.9" y1="1384" x2="1256.9" y2="941.1" stroke="#0072bd" stroke-width="2.5" stroke-dasharray="7,5"/>
<g fill="none" stroke="#0072bd" stroke-width="2">
<circle cx="1111.9" cy="1301.9" r="5"/><circle cx="1113" cy="1302.5" r="5"/><circle cx="1111" cy="1300.8" r="5"/>
<circle cx="1143.6" cy="1238.2" r="5"/><circle cx="1147.2" cy="1239.3" r="5"/><circle cx="1145.5" cy="1238.8" r="5"/>
<circle cx="1170.1" cy="1144.5" r="5"/><circle cx="1174.3" cy="1150.9" r="5"/><circle cx="1172.9" cy="1148.7" r="5"/>
<circle cx="1200.8" cy="1062.4" r="5"/><circle cx="1204.3" cy="1075.5" r="5"/><circle cx="1201.9" cy="1065.9" r="5"/><circle cx="1203" cy="1073" r="5"/>
<circle cx="1230.1" cy="1010.1" r="5"/><circle cx="1230.8" cy="1017.2" r="5"/><circle cx="1229.3" cy="1026" r="5"/><circle cx="1231.1" cy="1013.6" r="5"/><circle cx="1230.1" cy="1020.7" r="5"/>
</g>
<rect x="1081.9" y="941.1" width="175" height="442.9" fill="none" stroke="#262626" stroke-width="1.5"/>
<g stroke="#262626" stroke-width="1.3">
<path d="M1081.9,1236.4h5M1081.9,1088.8h5M1256.9,1236.4h-5M1256.9,1088.8h-5M1140.2,1384v-5M1198.5,1384v-5M1140.2,941.1v5M1198.5,941.1v5"/>
</g>
<g fill="#1a1a1a">
<text x="1029" y="934" font-weight="bold" font-size="24">i</text>
<g text-anchor="end"><text x="1071" y="952">0.6</text><text x="1071" y="1092.4">0.4</text><text x="1071" y="1239.2">0.2</text><text x="1071" y="1388">0</text></g>
<g text-anchor="middle"><text x="1081.9" y="1407">0</text><text x="1140.1" y="1407">1</text><text x="1198.3" y="1407">2</text><text x="1256.9" y="1407">3</text></g>
<text transform="translate(1054.6,1160) rotate(-90)" text-anchor="middle">Voltage (V)</text>
<text x="1094" y="973">w.o. cavity</text>
<text x="1174" y="1323"><tspan font-style="italic">R</tspan><tspan dy="-9" font-size="14">2</tspan><tspan dy="9">=0.99</tspan></text>
<text x="1103" y="1363"><tspan font-style="italic">S</tspan><tspan dy="6" font-size="14" font-style="italic">F</tspan><tspan dy="-6">=0.20 V/N</tspan></text>
<text x="1300.6" y="1447" text-anchor="middle">Force (N)</text>
</g>
</g>

<!-- ================= PANEL J ================= -->
<g>
<line x1="1335.9" y1="1381.5" x2="1475.2" y2="937.6" stroke="#ff3300" stroke-width="3" stroke-dasharray="8,5"/>
<g fill="none" stroke="#ff2a00" stroke-width="2">
<circle cx="1375" cy="1260.5" r="5"/><circle cx="1377.5" cy="1258.5" r="5"/><circle cx="1376" cy="1257" r="5"/><circle cx="1378.5" cy="1261" r="5"/>
<circle cx="1388.8" cy="1208.2" r="5"/><circle cx="1390.5" cy="1204.6" r="5"/><circle cx="1387" cy="1213.5" r="5"/><circle cx="1392.3" cy="1208.2" r="5"/>
<circle cx="1406.4" cy="1158.6" r="5"/><circle cx="1411.7" cy="1161.5" r="5"/><circle cx="1409.2" cy="1156.9" r="5"/><circle cx="1404.6" cy="1156.9" r="5"/>
<circle cx="1424.1" cy="1096.7" r="5"/><circle cx="1425.8" cy="1102.1" r="5"/><circle cx="1423.3" cy="1110.9" r="5"/><circle cx="1430.4" cy="1110.9" r="5"/><circle cx="1426.9" cy="1096.7" r="5"/>
<circle cx="1439.9" cy="1045.5" r="5"/><circle cx="1445.9" cy="1051.8" r="5"/><circle cx="1448" cy="1057.8" r="5"/><circle cx="1441.7" cy="1052.5" r="5"/>
</g>
<rect x="1335.9" y="937.6" width="176.3" height="443.9" fill="none" stroke="#262626" stroke-width="1.5"/>
<g stroke="#262626" stroke-width="1.3">
<path d="M1335.9,1048.6h5M1335.9,1159.6h5M1335.9,1270.5h5M1512.2,1048.6h-5M1512.2,1159.6h-5M1512.2,1270.5h-5M1394.7,1381.5v-5M1453.4,1381.5v-5M1394.7,937.6v5M1453.4,937.6v5"/>
</g>
<g fill="#1a1a1a">
<text x="1282" y="932" font-weight="bold" font-size="24">j</text>
<text x="1337" y="930">× 10<tspan dy="-9" font-size="15">-3</tspan></text>
<text x="1467" y="1438">× 10<tspan dy="-9" font-size="15">-3</tspan></text>
<g text-anchor="end"><text x="1330" y="951">40</text><text x="1330" y="1058.8">30</text><text x="1330" y="1172.6">20</text><text x="1330" y="1276.3">10</text><text x="1330" y="1388">0</text></g>
<g text-anchor="middle"><text x="1334.1" y="1408">0</text><text x="1391.6" y="1408">0.5</text><text x="1451.5" y="1408">1</text><text x="1508.7" y="1408">1.5</text></g>
<text x="1350" y="968">w. cavity</text>
<text x="1417" y="1319"><tspan font-style="italic">R</tspan><tspan dy="-9" font-size="14">2</tspan><tspan dy="9">=0.98</tspan></text>
<text x="1364" y="1365"><tspan font-style="italic">S</tspan><tspan dy="6" font-size="14" font-style="italic">F</tspan><tspan dy="-6">=32.43 V/N</tspan></text>
</g>
</g>
</svg>
</body></html>
